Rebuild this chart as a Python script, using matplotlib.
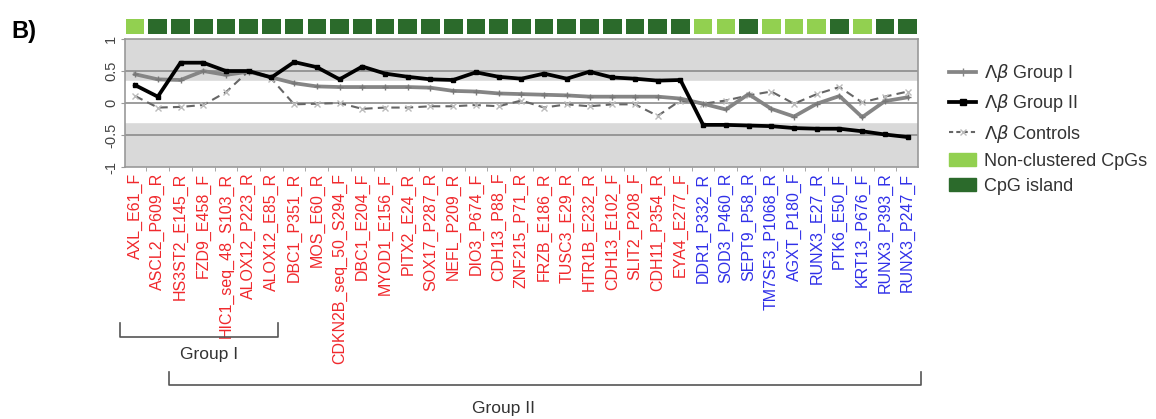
import numpy as np
import matplotlib
matplotlib.use("Agg")
import matplotlib.pyplot as plt
from matplotlib.lines import Line2D
from matplotlib.patches import Patch
from matplotlib.transforms import blended_transform_factory

plt.rcParams['font.family'] = ['Liberation Sans', 'DejaVu Sans']

# Daten
labels = ['AXL_E61_F', 'ASCL2_P609_R', 'HS3ST2_E145_R', 'FZD9_E458_F', 'HIC1_seq_48_S103_R',
          'ALOX12_P223_R', 'ALOX12_E85_R', 'DBC1_P351_R', 'MOS_E60_R', 'CDKN2B_seq_50_S294_F',
          'DBC1_E204_F', 'MYOD1_E156_F', 'PITX2_E24_R', 'SOX17_P287_R', 'NEFL_P209_R',
          'DIO3_P674_F', 'CDH13_P88_F', 'ZNF215_P71_R', 'FRZB_E186_R', 'TUSC3_E29_R',
          'HTR1B_E232_R', 'CDH13_E102_F', 'SLIT2_P208_F', 'CDH11_P354_R', 'EYA4_E277_F',
          'DDR1_P332_R', 'SOD3_P460_R', 'SEPT9_P58_R', 'TM7SF3_P1068_R', 'AGXT_P180_F',
          'RUNX3_E27_R', 'PTK6_E50_F', 'KRT13_P676_F', 'RUNX3_P393_R', 'RUNX3_P247_F']
n_red = 25  # rot = erste 25, blau = Rest

# 0 = Non-clustered CpGs, 1 = CpG island
cpg = [0] + [1] * 24 + [0, 0, 1, 0, 0, 0, 1, 0, 1, 1]

group1 = [0.45, 0.37, 0.36, 0.50, 0.44, 0.49, 0.40, 0.31, 0.26, 0.25, 0.25, 0.25, 0.25, 0.24,
          0.19, 0.18, 0.15, 0.14, 0.13, 0.12, 0.10, 0.10, 0.10, 0.10, 0.07, -0.01, -0.10, 0.14,
          -0.09, -0.21, -0.01, 0.11, -0.22, 0.03, 0.09]
group2 = [0.28, 0.10, 0.63, 0.63, 0.50, 0.50, 0.40, 0.64, 0.56, 0.37, 0.57, 0.46, 0.41, 0.37,
          0.36, 0.48, 0.41, 0.38, 0.46, 0.38, 0.49, 0.40, 0.38, 0.35, 0.36, -0.34, -0.34, -0.35,
          -0.36, -0.39, -0.40, -0.40, -0.44, -0.49, -0.53]
controls = [0.11, -0.07, -0.06, -0.03, 0.17, 0.50, 0.38, -0.02, -0.01, 0.00, -0.09, -0.07, -0.07,
            -0.05, -0.05, -0.03, -0.05, 0.04, -0.07, -0.02, -0.05, -0.02, -0.02, -0.20, 0.04,
            -0.01, 0.04, 0.12, 0.18, -0.01, 0.14, 0.25, 0.01, 0.10, 0.18]

yticks = [-1, -0.5, 0, 0.5, 1]
ytick_labels = ['-1', '-0.5', '0', '0.5', '1']

light_green = '#92d050'
dark_green = '#2b6a2b'
red = '#f0282c'
blue = '#3030e8'

x = np.arange(len(labels))

fig = plt.figure(figsize=(11.56, 4.19), dpi=100)
ax = fig.add_axes([0.108, 0.601, 0.686, 0.306])
ax_top = fig.add_axes([0.108, 0.919, 0.686, 0.036], sharex=ax)

# Hintergrund
ax.set_facecolor('#d9d9d9')
ax.axhspan(-0.3, 0.34, color='white', zorder=0)
for yv in [0.5, 0, -0.5]:
    ax.axhline(yv, color='#8c8c8c', lw=1.2, zorder=1)

ax.plot(x, controls, color='#666666', lw=1.5, ls=(0, (4, 2.5)), marker='x', ms=4,
        mec='#bbbbbb', zorder=3)
ax.plot(x, group1, color='#858585', lw=2.7, marker='+', ms=5, mec='#777777', zorder=4)
ax.plot(x, group2, color='black', lw=2.7, marker='s', ms=3, zorder=5)

ax.set_xlim(-0.45, len(labels) - 0.55)
ax.set_ylim(-1, 1)
ax.set_yticks(yticks)
ax.set_yticklabels(ytick_labels, rotation=90, va='center', fontsize=10.5, color='#444444')
ax.set_xticks(x)
ax.set_xticklabels(labels, rotation=90, fontsize=11.5)
for i, t in enumerate(ax.get_xticklabels()):
    t.set_color(red if i < n_red else blue)
ax.tick_params(axis='x', length=0, pad=4)
ax.set_xticks(x[:-1] + 0.5, minor=True)
ax.tick_params(axis='x', which='minor', length=3, color='#999999')
ax.tick_params(axis='y', length=3, color='#999999', pad=2)
for s in ax.spines.values():
    s.set_color('#999999')
    s.set_linewidth(1.2)

# CpG-Leiste oben
ax_top.bar(x, np.ones(len(x)), width=0.82,
           color=[dark_green if c else light_green for c in cpg])
ax_top.set_ylim(0, 1)
ax_top.axis('off')

# Legende
handles = [
    Line2D([], [], color='#858585', lw=2.7, marker='+', ms=6),
    Line2D([], [], color='black', lw=2.7, marker='s', ms=4),
    Line2D([], [], color='#666666', lw=1.5, ls=(0, (2, 1.5)), marker='x', ms=5, mec='#bbbbbb'),
    Patch(color=light_green),
    Patch(color=dark_green),
]
names = [r'$\mathit{\Lambda\beta}$ Group I', r'$\mathit{\Lambda\beta}$ Group II',
         r'$\mathit{\Lambda\beta}$ Controls', 'Non-clustered CpGs', 'CpG island']
leg = fig.legend(handles, names, loc='upper left', bbox_to_anchor=(0.807, 0.89),
                 frameon=False, fontsize=13, handlelength=1.5, handletextpad=0.45,
                 labelspacing=0.45)
for t in leg.get_texts():
    t.set_color('#333333')

# Gruppenklammern
tr = blended_transform_factory(ax.transData, fig.transFigure)
fig.add_artist(Line2D([-0.66, -0.66, 6.3, 6.3], [0.229, 0.196, 0.196, 0.229],
                      color='#555555', lw=1.2, transform=tr))
fig.add_artist(Line2D([1.5, 1.5, 34.6, 34.6], [0.112, 0.081, 0.081, 0.112],
                      color='#555555', lw=1.2, transform=tr))
fig.text(3.25, 0.153, 'Group I', transform=tr, ha='center', va='center',
         fontsize=12.5, color='#333333')
fig.text(16.2, 0.026, 'Group II', transform=tr, ha='center', va='center',
         fontsize=12.5, color='#333333')

fig.text(0.01, 0.925, 'B)', fontsize=17, fontweight='bold', va='center')

fig.savefig('out.png', dpi=100)
